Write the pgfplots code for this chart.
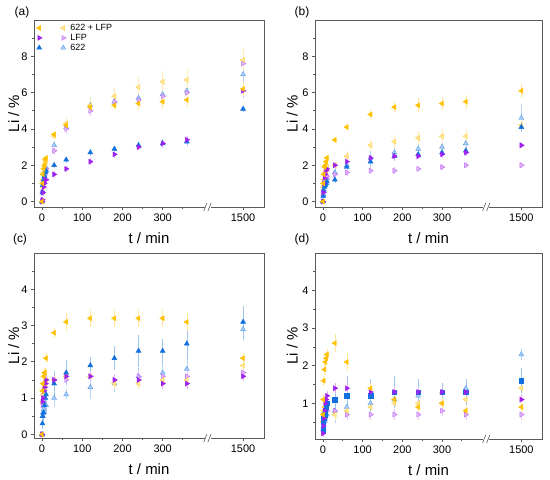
\documentclass[border=0pt]{standalone}
\usepackage{pgfplots}
\pgfplotsset{compat=1.18}
\usepackage{pgfplotstable}
\usepackage{fontspec}
\setmainfont{Liberation Sans}

\definecolor{Yc}{HTML}{FFC000}
\definecolor{Pc}{HTML}{A020F0}
\definecolor{Bc}{HTML}{1070E0}
\definecolor{framec}{HTML}{5A5A5A}

% t / min ; Li / % ; error  (f = filled symbols, l = light symbols)
\pgfplotstableread{
t Yf Yfe Yl Yle Pf Pfe Pl Ple Bf Bfe Bl Ble
0 0.0 .05 0.0 .05 0.0 .05 0.0 .05 0.0 .05 0.0 .05
1 1.0 .1 0.8 .1 0.1 .05 0.5 .1 0.5 .1 0.6 .1
2 1.5 .1 1.2 .1 0.5 .1 1.0 .1 0.9 .1 1.0 .1
4 1.8 .1 1.6 .1 0.8 .1 1.3 .1 1.2 .1 1.3 .1
6 2.0 .1 1.9 .1 1.0 .1 1.5 .1 1.4 .1 1.5 .1
8 2.3 .1 2.1 .1 1.2 .1 1.7 .1 1.6 .1 1.7 .1
10 2.4 .1 2.2 .1 1.2 .1 1.8 .1 1.7 .1 1.9 .1
30 3.7 .1 3.6 .1 1.5 .1 2.8 .15 2.0 .1 3.1 .15
60 4.2 .1 4.3 .2 1.8 .1 4.0 .2 2.3 .1 4.1 .3
120 5.2 .2 5.3 .3 2.2 .1 5.0 .2 2.7 .1 5.3 .4
180 5.3 .2 5.8 .4 2.6 .1 5.5 .3 2.9 .1 5.5 .3
240 5.4 .3 6.3 .5 3.0 .1 5.6 .3 3.1 .1 5.7 .3
300 5.5 .3 6.6 .5 3.2 .1 5.8 .3 3.2 .15 5.9 .3
360 5.6 .3 6.7 .5 3.4 .15 6.0 .3 3.3 .15 6.1 .3
1500 6.2 .3 7.8 .5 6.1 .3 7.6 .3 5.1 .1 7.0 .5
}\tabA

\pgfplotstableread{
t Yf Yfe Yl Yle Pf Pfe Pl Ple Bf Bfe Bl Ble
0 0.0 .05 0.0 .05 0.0 .05 0.0 .05 0.0 .05 0.0 .05
1 1.0 .1 0.8 .1 0.5 .1 0.5 .1 0.3 .1 0.4 .1
2 1.5 .1 1.2 .1 1.0 .1 0.9 .1 0.6 .1 0.7 .1
4 1.9 .1 1.5 .1 1.3 .1 1.1 .1 0.8 .1 0.9 .1
6 2.0 .1 1.6 .1 1.5 .1 1.2 .1 0.9 .1 1.1 .1
8 2.2 .1 1.7 .1 1.7 .1 1.3 .1 1.0 .1 1.2 .1
10 2.4 .1 1.9 .1 1.8 .1 1.4 .1 1.1 .1 1.3 .1
30 3.4 .1 2.0 .1 2.0 .1 1.5 .1 1.2 .1 1.6 .2
60 4.1 .1 2.5 .2 2.2 .1 1.6 .1 1.9 .1 2.0 .2
120 4.8 .15 3.1 .2 2.4 .1 1.7 .1 2.2 .2 2.4 .3
180 5.2 .2 3.3 .3 2.5 .1 1.7 .1 2.5 .2 2.7 .3
240 5.3 .3 3.5 .3 2.5 .1 1.8 .1 2.6 .2 2.9 .3
300 5.4 .3 3.6 .3 2.6 .1 1.9 .1 2.7 .2 3.0 .3
360 5.5 .3 3.6 .3 2.7 .1 2.0 .1 2.8 .2 3.2 .3
1500 6.1 .3 4.2 .2 3.1 .1 2.0 .1 4.1 .2 4.6 .7
}\tabB

\pgfplotstableread{
t Yf Yfe Yl Yle Pf Pfe Pl Ple Bf Bfe Bl Ble
0 0.0 .05 0.0 .05 0.0 .05 0.0 .05 0.0 .05 0.0 .05
1 1.2 .1 0.9 .1 0.9 .1 0.8 .1 0.3 .1 0.5 .1
2 1.4 .1 1.1 .1 1.0 .1 0.9 .1 0.5 .1 0.6 .1
4 1.6 .1 1.2 .1 1.2 .1 1.1 .1 0.6 .1 0.7 .1
6 1.7 .1 1.3 .1 1.3 .1 1.2 .1 0.8 .1 0.8 .15
8 1.7 .1 1.4 .1 1.4 .1 1.3 .1 1.0 .1 0.8 .15
10 2.1 .1 1.5 .1 1.5 .1 1.4 .1 1.1 .1 0.8 .2
30 2.8 .1 1.5 .1 1.5 .1 1.5 .1 1.4 .3 1.0 .2
60 3.1 .2 1.6 .1 1.6 .1 1.5 .1 1.7 .3 1.1 .1
120 3.2 .2 1.6 .1 1.6 .1 1.6 .1 1.9 .2 1.3 .3
180 3.2 .2 1.4 .1 1.5 .1 1.5 .1 2.1 .3 1.4 .2
240 3.2 .2 1.4 .1 1.5 .1 1.6 .1 2.3 .4 1.6 .2
300 3.2 .2 1.5 .1 1.4 .1 1.6 .1 2.3 .3 1.7 .3
360 3.1 .2 1.5 .1 1.4 .1 1.6 .1 2.5 .4 1.8 .4
1500 2.1 .1 1.9 .1 1.6 .1 1.7 .1 3.1 .4 2.9 .3
}\tabC

\pgfplotstableread{
t Yf Yfe Yl Yle Pf Pfe Pl Ple Bf Bfe Bl Ble
0 0.7 .1 0.5 .1 0.2 .05 0.2 .05 0.3 .1 0.3 .1
1 1.1 .1 0.7 .1 0.4 .1 0.3 .05 0.5 .1 0.4 .1
2 1.6 .1 0.8 .1 0.6 .1 0.5 .1 0.6 .1 0.5 .1
4 1.9 .1 0.9 .1 0.8 .1 0.7 .1 0.7 .1 0.6 .1
6 2.1 .1 0.9 .1 1.0 .1 0.8 .1 0.8 .1 0.7 .1
8 2.2 .1 0.9 .1 1.1 .1 0.8 .1 0.9 .2 0.7 .2
10 2.3 .1 0.9 .1 1.2 .1 0.8 .1 1.0 .2 0.7 .2
30 2.6 .2 0.7 .1 1.4 .1 0.8 .1 1.1 .4 0.8 .3
60 2.1 .2 0.8 .1 1.4 .1 0.7 .1 1.2 .5 0.9 .3
120 1.4 .1 0.9 .1 1.3 .1 0.7 .1 1.2 .4 1.0 .2
180 1.1 .1 1.0 .1 1.3 .1 0.7 .1 1.3 .4 1.1 .2
240 0.9 .1 1.0 .1 1.3 .1 0.7 .1 1.3 .3 1.2 .2
300 1.0 .1 1.0 .1 1.3 .1 0.8 .1 1.3 .2 1.3 .2
360 0.8 .1 1.1 .1 1.3 .1 0.7 .1 1.3 .3 1.4 .2
1500 0.9 .1 1.4 .1 1.1 .1 0.7 .1 1.6 .3 2.3 .1
}\tabD

\pgfplotsset{
  eb/.style={/pgfplots/error bars/y dir=both, /pgfplots/error bars/y explicit,
    /pgfplots/error bars/error bar style={#1, line width=0.5pt},
    /pgfplots/error bars/error mark options={#1, mark size=1.4pt, line width=0.5pt}},
  Yf/.style={only marks, forget plot, mark=triangle*, mark size=2.9pt, mark options={rotate=90, fill=Yc, draw=Yc}, eb=Yc!40},
  Yl/.style={only marks, forget plot, mark=triangle*, mark size=2.9pt, mark options={rotate=90, fill=Yc!40, draw=Yc!75}, eb=Yc!30},
  Pf/.style={only marks, forget plot, mark=triangle*, mark size=2.9pt, mark options={rotate=-90, fill=Pc, draw=Pc}, eb=Pc!35},
  Pl/.style={only marks, forget plot, mark=triangle*, mark size=2.9pt, mark options={rotate=-90, fill=Pc!35, draw=Pc!65}, eb=Pc!25},
  Bf/.style={only marks, forget plot, mark=triangle*, mark size=2.9pt, mark options={fill=Bc, draw=Bc}, eb=Bc!40},
  Bl/.style={only marks, forget plot, mark=triangle*, mark size=2.9pt, mark options={fill=Bc!35, draw=Bc!70}, eb=Bc!30},
  Bsq/.style={only marks, forget plot, mark=square*, mark size=2.2pt, mark options={fill=Bc, draw=Bc}, eb=Bc!40},
  panel/.style={scale only axis, clip=false, anchor=south west,
    xmin=-20, xmax=552,
    xtick={0,100,200,300,500}, xticklabels={0,100,200,300,1500},
    minor xtick={50,150,250,350},
    tick align=outside, tick pos=left,
    major tick length=3bp, minor tick length=2bp,
    axis line style={draw=framec, line width=0.7pt},
    tick style={draw=framec, line width=0.7pt},
    /pgf/number format/assume math mode=true,
    tick label style={font=\fontsize{11}{12}\selectfont},
    label style={font=\fontsize{15}{18}\selectfont},
    xlabel={t / min}, ylabel={Li / \%},
    xlabel style={at={(axis description cs:0.5,-0.166)}, anchor=center},
  },
}

% the time 1500 min is drawn after the axis break, 1000 min to the left
\newcommand{\plotall}[2]{%
  \addplot[Bl] table[x expr={\thisrow{t}>1000 ? \thisrow{t}-1000 : \thisrow{t}}, y=Bl, y error=Ble] {#1};
  \addplot[Pl] table[x expr={\thisrow{t}>1000 ? \thisrow{t}-1000 : \thisrow{t}}, y=Pl, y error=Ple] {#1};
  \addplot[Yl] table[x expr={\thisrow{t}>1000 ? \thisrow{t}-1000 : \thisrow{t}}, y=Yl, y error=Yle] {#1};
  \addplot[#2] table[x expr={\thisrow{t}>1000 ? \thisrow{t}-1000 : \thisrow{t}}, y=Bf, y error=Bfe] {#1};
  \addplot[Pf] table[x expr={\thisrow{t}>1000 ? \thisrow{t}-1000 : \thisrow{t}}, y=Pf, y error=Pfe] {#1};
  \addplot[Yf] table[x expr={\thisrow{t}>1000 ? \thisrow{t}-1000 : \thisrow{t}}, y=Yf, y error=Yfe] {#1};
  \fill[white] (axis description cs:0.742,-0.015) rectangle (axis description cs:0.768,0.015);
  \draw[framec, line width=0.6pt] (axis description cs:0.738,-0.022) -- (axis description cs:0.752,0.022);
  \draw[framec, line width=0.6pt] (axis description cs:0.756,-0.022) -- (axis description cs:0.770,0.022);
}

\begin{document}
\begin{tikzpicture}
\useasboundingbox (0,0) rectangle (550bp,480bp);

% (a)
\begin{axis}[panel, at={(34bp,273bp)}, width=230bp, height=187bp,
  ymin=-0.3, ymax=10, ytick={0,2,4,6,8}, minor ytick={1,3,5,7,9},
  ylabel style={at={(axis description cs:-0.088,0.5)}, anchor=center},
  legend style={at={(axis description cs:0.005,0.995)}, anchor=north west, draw=none, fill=none,
    font=\fontsize{9}{9}\selectfont, row sep=-1.8bp, inner sep=1bp},
  legend cell align=left]
\plotall{\tabA}{Bf}
\addlegendimage{legend image code/.code={
  \draw[Yc, mark=triangle*, mark size=2.9pt, mark options={rotate=90, fill=Yc, draw=Yc}] plot coordinates {(0bp,0bp)};
  \draw[Yc, mark=triangle*, mark size=2.9pt, mark options={rotate=90, fill=Yc!40, draw=Yc!75}] plot coordinates {(24bp,0bp)};
  \path (29bp,0bp);}}
\addlegendentry{622 + LFP}
\addlegendimage{legend image code/.code={
  \draw[Pc, mark=triangle*, mark size=2.9pt, mark options={rotate=-90, fill=Pc, draw=Pc}] plot coordinates {(0bp,0bp)};
  \draw[Pc, mark=triangle*, mark size=2.9pt, mark options={rotate=-90, fill=Pc!35, draw=Pc!65}] plot coordinates {(24bp,0bp)};
  \path (29bp,0bp);}}
\addlegendentry{LFP}
\addlegendimage{legend image code/.code={
  \draw[Bc, mark=triangle*, mark size=2.9pt, mark options={fill=Bc, draw=Bc}] plot coordinates {(0bp,0bp)};
  \draw[Bc, mark=triangle*, mark size=2.9pt, mark options={fill=Bc!35, draw=Bc!70}] plot coordinates {(24bp,0bp)};
  \path (29bp,0bp);}}
\addlegendentry{622}
\end{axis}

% (b)
\begin{axis}[panel, at={(315bp,273bp)}, width=227bp, height=187bp,
  ymin=-0.3, ymax=10, ytick={0,2,4,6,8}, minor ytick={1,3,5,7,9},
  ylabel style={at={(axis description cs:-0.10,0.5)}, anchor=center}]
\plotall{\tabB}{Bf}
\end{axis}

% (c)
\begin{axis}[panel, at={(34bp,42bp)}, width=230bp, height=185bp,
  ymin=-0.1, ymax=5, ytick={0,1,2,3,4}, minor ytick={0.5,1.5,2.5,3.5,4.5},
  ylabel style={at={(axis description cs:-0.088,0.5)}, anchor=center}]
\plotall{\tabC}{Bf}
\end{axis}

% (d)
\begin{axis}[panel, at={(315bp,41bp)}, width=227bp, height=186bp,
  ymin=0.05, ymax=5, ytick={1,2,3,4}, minor ytick={0.5,1.5,2.5,3.5,4.5},
  ylabel style={at={(axis description cs:-0.10,0.5)}, anchor=center}]
\plotall{\tabD}{Bsq}
\end{axis}

\node[font=\fontsize{12}{14}\selectfont] at (22bp,468bp) {(a)};
\node[font=\fontsize{12}{14}\selectfont] at (302bp,468bp) {(b)};
\node[font=\fontsize{12}{14}\selectfont] at (20bp,241bp) {(c)};
\node[font=\fontsize{12}{14}\selectfont] at (302bp,241bp) {(d)};
\end{tikzpicture}
\end{document}
